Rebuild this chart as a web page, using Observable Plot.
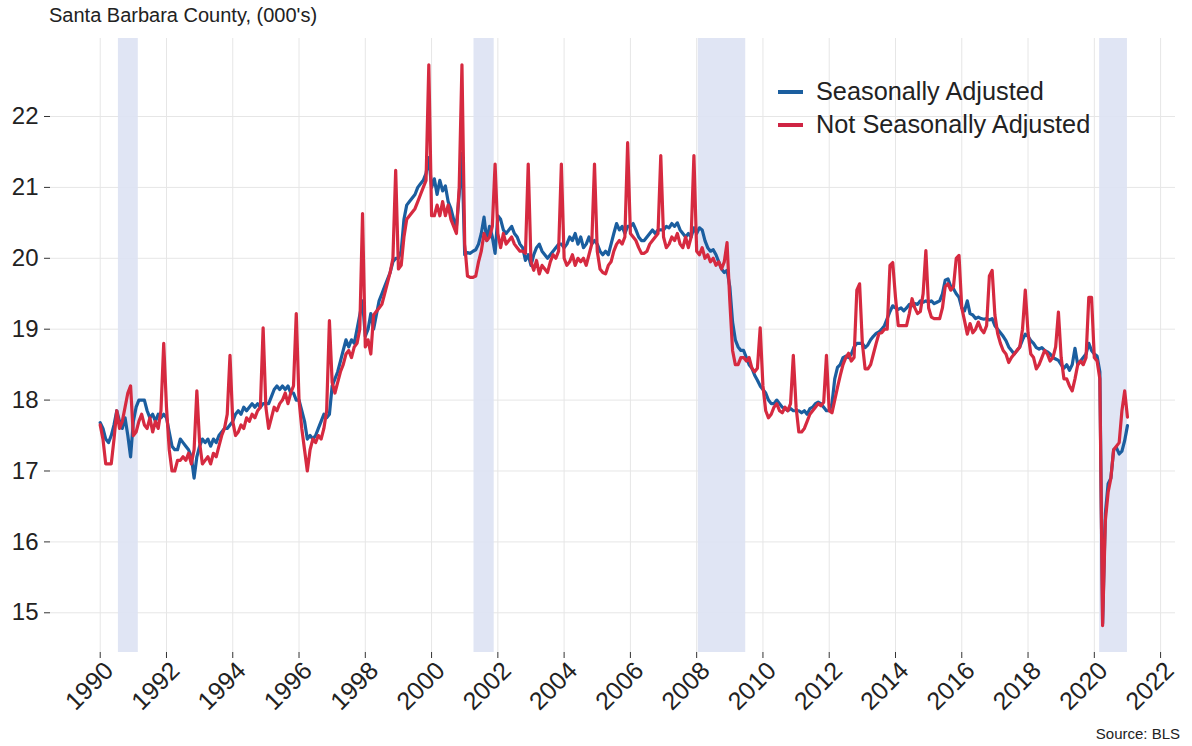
<!DOCTYPE html>
<html>
<head>
<meta charset="utf-8">
<script src="https://cdn.jsdelivr.net/npm/d3@7"></script>
<script src="https://cdn.jsdelivr.net/npm/@observablehq/plot@0.6"></script>
<style>
  body { margin: 0; background: #fff; }
  #wrap { position: relative; width: 1192px; height: 746px; font-family: "Liberation Sans", Arial, sans-serif; color: #222; overflow: hidden; }
  #title { position: absolute; left: 49px; top: 4px; font-size: 20px; white-space: nowrap; }
  #chart { position: absolute; left: 0; top: 30px; }
  .leg { position: absolute; font-size: 25.3px; line-height: 25px; white-space: nowrap; }
  .sw { position: absolute; width: 25px; height: 3.5px; }
  #source { position: absolute; right: 12px; top: 725px; font-size: 15px; }
</style>
</head>
<body>
<div id="wrap">
  <div id="title">Santa Barbara County, (000's)</div>
  <div id="chart"></div>
  <div class="sw" style="left:778px; top:90px; background:#1b5e9f;"></div>
  <div class="leg" style="left:816px; top:79px;">Seasonally Adjusted</div>
  <div class="sw" style="left:778px; top:123px; background:#cf2443;"></div>
  <div class="leg" style="left:816px; top:112px;">Not Seasonally Adjusted</div>
  <div id="source">Source: BLS</div>
</div>
<script>
// Monthly employment, Santa Barbara County (thousands), Jan 1990 – Jan 2021
const startYear = 1990;

const seasonallyAdjusted = [
  17.68, 17.6, 17.45, 17.4, 17.5, 17.65, 17.85, 17.7, 17.6, 17.75, 17.5, 17.2,      // 1990
  17.7, 17.9, 18.0, 18.0, 18.0, 17.85, 17.75, 17.8, 17.7, 17.8, 17.75, 17.8,        // 1991
  17.75, 17.55, 17.35, 17.3, 17.3, 17.45, 17.4, 17.35, 17.3, 17.2, 16.9, 17.2,      // 1992
  17.35, 17.45, 17.4, 17.45, 17.35, 17.45, 17.4, 17.5, 17.55, 17.6, 17.6, 17.65,    // 1993
  17.7, 17.8, 17.85, 17.8, 17.9, 17.85, 17.9, 17.95, 17.9, 17.95, 17.9, 17.95,      // 1994
  17.95, 17.95, 18.05, 18.15, 18.2, 18.15, 18.2, 18.15, 18.2, 18.1, 18.1, 18.0,     // 1995
  18.0, 17.85, 17.7, 17.45, 17.5, 17.45, 17.5, 17.6, 17.7, 17.8, 17.75, 17.8,       // 1996
  18.2, 18.3, 18.4, 18.55, 18.7, 18.85, 18.75, 18.85, 18.8, 19.0, 19.2, 19.4,       // 1997
  18.9, 19.0, 19.22, 19.0, 19.2, 19.4, 19.5, 19.6, 19.7, 19.8, 19.95, 20.0,         // 1998
  20.0, 20.1, 20.55, 20.75, 20.8, 20.85, 20.9, 21.0, 21.05, 21.1, 21.2, 21.42,      // 1999
  21.0, 21.12, 20.9, 21.1, 20.95, 21.02, 20.8, 20.7, 20.55, 20.45, 20.9, 21.48,     // 2000
  20.05, 20.08, 20.07, 20.1, 20.12, 20.2, 20.35, 20.58, 20.25, 20.45, 20.3, 20.07,  // 2001
  20.6, 20.55, 20.4, 20.35, 20.4, 20.45, 20.35, 20.3, 20.2, 20.15, 19.97, 20.05,    // 2002
  19.9, 20.05, 20.15, 20.2, 20.1, 20.05, 20.0, 20.05, 20.1, 20.15, 20.2, 20.2,      // 2003
  20.15, 20.2, 20.3, 20.25, 20.35, 20.2, 20.3, 20.15, 20.2, 20.3, 20.2, 20.25,      // 2004
  20.2, 20.1, 20.05, 20.1, 20.05, 20.2, 20.35, 20.49, 20.4, 20.45, 20.35, 20.45,    // 2005
  20.45, 20.49, 20.4, 20.3, 20.25, 20.25, 20.3, 20.35, 20.4, 20.35, 20.4, 20.4,     // 2006
  20.4, 20.45, 20.43, 20.49, 20.45, 20.5, 20.4, 20.35, 20.3, 20.35, 20.3, 20.43,    // 2007
  20.35, 20.43, 20.4, 20.25, 20.15, 20.1, 20.12, 20.05, 19.95, 19.85, 19.8, 19.83,  // 2008
  19.6, 19.1, 18.85, 18.75, 18.7, 18.7, 18.6, 18.5, 18.45, 18.35, 18.28, 18.2,      // 2009
  18.15, 18.1, 18.0, 17.95, 17.95, 18.0, 17.95, 17.9, 17.88, 17.85, 17.88, 17.85,   // 2010
  17.85, 17.85, 17.82, 17.85, 17.8, 17.88, 17.9, 17.95, 17.97, 17.95, 17.9, 17.85,  // 2011
  17.85, 17.95, 18.3, 18.46, 18.5, 18.6, 18.62, 18.6, 18.65, 18.75, 18.8, 18.8,     // 2012
  18.8, 18.74, 18.78, 18.85, 18.9, 18.94, 18.96, 19.0, 19.05, 19.15, 19.25, 19.33,  // 2013
  19.3, 19.28, 19.3, 19.26, 19.3, 19.35, 19.33, 19.36, 19.35, 19.4, 19.38, 19.4,    // 2014
  19.38, 19.4, 19.36, 19.38, 19.4, 19.5, 19.69, 19.71, 19.6, 19.57, 19.5, 19.45,    // 2015
  19.3, 19.26, 19.4, 19.22, 19.2, 19.15, 19.17, 19.15, 19.14, 19.15, 19.13, 19.15,  // 2016
  19.05, 19.0, 18.95, 18.9, 18.84, 18.75, 18.7, 18.65, 18.7, 18.75, 18.85, 18.93,  // 2017
  18.9, 18.84, 18.8, 18.74, 18.72, 18.74, 18.7, 18.68, 18.65, 18.6, 18.58, 18.56,   // 2018
  18.5, 18.45, 18.5, 18.42, 18.5, 18.73, 18.5, 18.55, 18.6, 18.65, 18.8, 18.7,      // 2019
  18.65, 18.62, 18.4, 14.85, 16.4, 16.82, 16.9, 17.3, 17.33, 17.24, 17.28, 17.43,   // 2020
  17.64                                                                             // 2021
];

const notSeasonallyAdjusted = [
  17.65, 17.45, 17.1, 17.1, 17.1, 17.45, 17.85, 17.6, 17.7, 17.9, 18.1, 18.2,       // 1990
  17.5, 17.55, 17.7, 17.8, 17.65, 17.6, 17.75, 17.55, 17.7, 17.6, 17.85, 18.8,      // 1991
  17.9, 17.3, 17.0, 17.0, 17.15, 17.15, 17.2, 17.15, 17.25, 17.1, 17.3, 18.13,      // 1992
  17.4, 17.1, 17.15, 17.2, 17.1, 17.25, 17.2, 17.35, 17.5, 17.6, 17.8, 18.63,       // 1993
  17.7, 17.5, 17.55, 17.65, 17.6, 17.75, 17.7, 17.8, 17.75, 17.85, 17.9, 19.02,     // 1994
  17.9, 17.6, 17.75, 17.9, 17.85, 17.95, 18.0, 18.1, 17.95, 18.1, 18.2, 19.22,      // 1995
  18.0, 17.6, 17.3, 17.0, 17.3, 17.45, 17.4, 17.5, 17.45, 17.6, 17.85, 19.12,       // 1996
  18.25, 18.1, 18.25, 18.4, 18.5, 18.65, 18.7, 18.6, 18.75, 18.8, 19.0, 20.63,      // 1997
  18.75, 18.85, 18.65, 19.2, 19.25, 19.3, 19.35, 19.5, 19.65, 19.8, 20.0, 21.24,    // 1998
  19.85, 19.9, 20.3, 20.55, 20.6, 20.65, 20.7, 20.8, 20.9, 21.0, 21.1, 22.73,       // 1999
  20.6, 20.6, 20.75, 20.6, 20.8, 20.6, 20.75, 20.55, 20.45, 20.35, 21.0, 22.73,     // 2000
  20.2, 19.75, 19.73, 19.73, 19.75, 19.95, 20.1, 20.35, 20.25, 20.3, 20.45, 21.33,  // 2001
  20.35, 20.15, 20.35, 20.2, 20.25, 20.3, 20.2, 20.15, 20.1, 20.1, 20.07, 21.33,    // 2002
  19.95, 19.83, 19.97, 19.78, 19.9, 19.85, 19.8, 19.95, 20.05, 20.0, 20.1, 21.33,   // 2003
  20.0, 19.9, 19.95, 20.05, 19.9, 20.0, 19.95, 20.0, 19.9, 20.05, 20.2, 21.33,      // 2004
  20.1, 19.85, 19.8, 19.78, 19.9, 19.95, 20.1, 20.2, 20.25, 20.2, 20.3, 21.63,      // 2005
  20.35, 20.3, 20.25, 20.15, 20.07, 20.07, 20.1, 20.2, 20.25, 20.3, 20.35, 21.45,   // 2006
  20.3, 20.15, 20.2, 20.3, 20.25, 20.35, 20.2, 20.15, 20.3, 20.15, 20.3, 21.45,     // 2007
  20.1, 20.05, 20.15, 20.0, 20.05, 19.95, 20.0, 19.9, 19.95, 19.85, 19.95, 20.22,   // 2008
  19.4, 18.7, 18.5, 18.5, 18.6, 18.6, 18.55, 18.6, 18.45, 18.4, 18.45, 19.02,       // 2009
  18.2, 17.85, 17.75, 17.8, 17.9, 17.95, 17.85, 17.82, 17.9, 17.85, 17.95, 18.63,   // 2010
  17.9, 17.55, 17.55, 17.6, 17.7, 17.8, 17.85, 17.9, 17.95, 17.92, 17.97, 18.63,    // 2011
  17.85, 17.82, 18.0, 18.18, 18.35, 18.5, 18.6, 18.66, 18.55, 18.6, 19.55, 19.64,   // 2012
  18.8, 18.44, 18.44, 18.5, 18.65, 18.8, 18.94, 18.95, 19.0, 19.0, 19.9, 19.94,     // 2013
  19.45, 19.05, 19.05, 19.05, 19.05, 19.22, 19.43, 19.3, 19.22, 19.25, 19.5, 20.11, // 2014
  19.3, 19.17, 19.15, 19.15, 19.15, 19.3, 19.6, 19.64, 19.55, 19.6, 20.0, 20.04,    // 2015
  19.3, 19.12, 18.93, 19.08, 18.95, 19.0, 19.1, 19.0, 18.95, 19.05, 19.75, 19.83,   // 2016
  19.2, 18.94, 18.8, 18.7, 18.65, 18.53, 18.6, 18.65, 18.7, 18.75, 19.0, 19.55,     // 2017
  18.95, 18.65, 18.6, 18.44, 18.5, 18.6, 18.7, 18.65, 18.55, 18.6, 18.75, 19.24,    // 2018
  18.6, 18.3, 18.3, 18.2, 18.13, 18.3, 18.5, 18.55, 18.5, 18.6, 19.45, 19.45,       // 2019
  18.6, 18.55, 18.3, 14.82, 16.3, 16.7, 16.9, 17.3, 17.35, 17.4, 17.85, 18.13,      // 2020
  17.76                                                                             // 2021
];

// Recession shading (decimal years, as drawn)
const recessionStart = [1990.55, 2001.28, 2008.05, 2020.16];
const recessionEnd   = [1991.15, 2001.89, 2009.48, 2021.0];

const xTicks = [1990, 1992, 1994, 1996, 1998, 2000, 2002, 2004, 2006, 2008, 2010, 2012, 2014, 2016, 2018, 2020, 2022];
const yTicks = [15, 16, 17, 18, 19, 20, 21, 22];

const blue = "#1b5e9f";
const red = "#d62a40";

const data = seasonallyAdjusted.map((v, i) => ({
  t: startYear + i / 12,
  sa: v,
  nsa: notSeasonallyAdjusted[i]
}));
const recessions = recessionStart.map((s, i) => ({start: s, end: recessionEnd[i]}));

const chart = Plot.plot({
  width: 1192,
  height: 690,
  marginLeft: 50,
  marginRight: 17,
  marginTop: 8,
  marginBottom: 68,
  style: {fontFamily: "'Liberation Sans', Arial, sans-serif", fontSize: "24px", color: "#222", background: "#fff"},
  x: {domain: [1988.5, 2022.45]},
  y: {domain: [14.44, 23.1]},
  marks: [
    Plot.gridX(xTicks, {stroke: "#e6e6e6", strokeOpacity: 1, strokeWidth: 1}),
    Plot.gridY(yTicks, {stroke: "#e6e6e6", strokeOpacity: 1, strokeWidth: 1}),
    Plot.rect(recessions, {x1: "start", x2: "end", fill: "#dde2f3", fillOpacity: 0.9}),
    // tick marks only
    Plot.axisX(xTicks, {tickFormat: () => "", tickSize: 6, stroke: "#333", label: null}),
    // rotated labels only
    Plot.axisX(xTicks, {tickFormat: d => String(d), tickRotate: -45, tickSize: 0, tickPadding: 12, label: null, fontSize: 25, dx: 9, dy: 2}),
    Plot.axisY(yTicks, {tickFormat: d => String(d), tickSize: 6, tickPadding: 6, stroke: "#333", label: null, fontSize: 24}),
    Plot.line(data, {x: "t", y: "sa", stroke: blue, strokeWidth: 3.2, strokeLinejoin: "round"}),
    Plot.line(data, {x: "t", y: "nsa", stroke: red, strokeWidth: 3.2, strokeLinejoin: "round"})
  ]
});
document.getElementById("chart").appendChild(chart);
</script>
</body>
</html>
